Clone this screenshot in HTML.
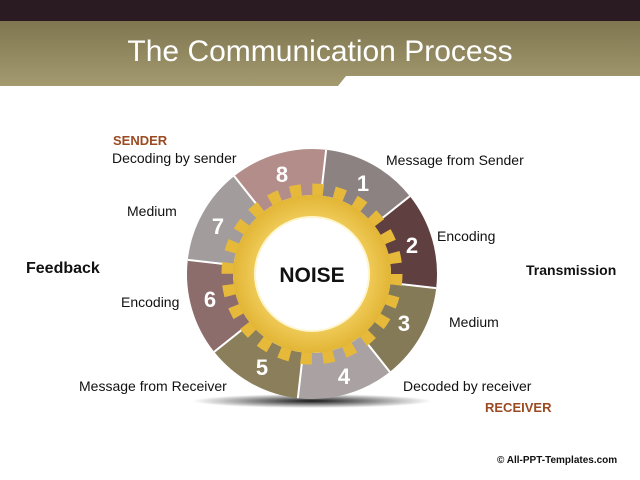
<!DOCTYPE html>
<html><head><style>
html,body{margin:0;padding:0;background:#fff;}
body{width:640px;height:480px;position:relative;overflow:hidden;font-family:"Liberation Sans",sans-serif;}
.t{position:absolute;white-space:nowrap;font-size:14px;color:#111;}
</style></head><body>
<svg width="640" height="480" style="position:absolute;left:0;top:0">
<defs>
<linearGradient id="hg" x1="0" y1="0" x2="0" y2="1"><stop offset="0" stop-color="#7f7650"/><stop offset="1" stop-color="#a39a70"/></linearGradient>
<radialGradient id="gg" cx="0.5" cy="0.5" r="0.5"><stop offset="0.7" stop-color="#f0cc5a"/><stop offset="1" stop-color="#e2b535"/></radialGradient>
<radialGradient id="sh" cx="0.5" cy="0.5" r="0.5"><stop offset="0" stop-color="#000" stop-opacity="0.9"/><stop offset="1" stop-color="#000" stop-opacity="0"/></radialGradient>
</defs>
<rect x="0" y="0" width="640" height="21" fill="#2a1b23"/>
<path d="M0 21H640V76H346L338 86H0Z" fill="url(#hg)"/>
<text x="320" y="61" text-anchor="middle" font-family="Liberation Sans" font-size="30" fill="#fff">The Communication Process</text>
<ellipse cx="312" cy="401" rx="120" ry="7" fill="url(#sh)"/>
<g transform="translate(312,274)">
<g fill="none" stroke-width="46">
<circle r="102" stroke="#8c8282" stroke-dasharray="80.1 600" transform="rotate(-83.5)"/>
<circle r="102" stroke="#5f3f40" stroke-dasharray="80.1 600" transform="rotate(-38.5)"/>
<circle r="102" stroke="#857a58" stroke-dasharray="80.1 600" transform="rotate(6.5)"/>
<circle r="102" stroke="#aaa2a2" stroke-dasharray="80.1 600" transform="rotate(51.5)"/>
<circle r="102" stroke="#8b7e5a" stroke-dasharray="80.1 600" transform="rotate(96.5)"/>
<circle r="102" stroke="#8d6c6c" stroke-dasharray="80.1 600" transform="rotate(141.5)"/>
<circle r="102" stroke="#a29c9c" stroke-dasharray="80.1 600" transform="rotate(186.5)"/>
<circle r="102" stroke="#b38d8a" stroke-dasharray="80.1 600" transform="rotate(231.5)"/>
</g>
<g stroke="#fff" stroke-width="2">
<line x1="0" y1="-82" x2="0" y2="-125" transform="rotate(6.5)"/>
<line x1="0" y1="-82" x2="0" y2="-125" transform="rotate(51.5)"/>
<line x1="0" y1="-82" x2="0" y2="-125" transform="rotate(96.5)"/>
<line x1="0" y1="-82" x2="0" y2="-125" transform="rotate(141.5)"/>
<line x1="0" y1="-82" x2="0" y2="-125" transform="rotate(186.5)"/>
<line x1="0" y1="-82" x2="0" y2="-125" transform="rotate(231.5)"/>
<line x1="0" y1="-82" x2="0" y2="-125" transform="rotate(276.5)"/>
<line x1="0" y1="-82" x2="0" y2="-125" transform="rotate(321.5)"/>
</g>
<circle r="84" fill="none" stroke="#e6b93a" stroke-width="13" stroke-dasharray="11 11"/>
<circle r="79" fill="url(#gg)"/>
<circle r="57" fill="#fff" stroke="#fff6d0" stroke-width="2"/>
<g font-family="Liberation Sans" font-weight="bold" font-size="22" fill="#fff" text-anchor="middle">
<text x="51" y="-83">1</text><text x="100" y="-21">2</text><text x="92" y="57">3</text><text x="32" y="110">4</text>
<text x="-50" y="101">5</text><text x="-102" y="33">6</text><text x="-94" y="-40">7</text><text x="-30" y="-92">8</text>
</g>
<text x="0" y="8" text-anchor="middle" font-family="Liberation Sans" font-weight="bold" font-size="21" fill="#111">NOISE</text>
</g>
</svg>
<div class="t" style="left:113px;top:133px;color:#9b4a22;font-weight:bold;font-size:13px">SENDER</div>
<div class="t" style="left:112px;top:150px">Decoding by sender</div>
<div class="t" style="left:127px;top:203px">Medium</div>
<div class="t" style="left:26px;top:260px;font-weight:bold;font-size:16px">Feedback</div>
<div class="t" style="left:121px;top:294px">Encoding</div>
<div class="t" style="left:79px;top:378px">Message from Receiver</div>
<div class="t" style="left:386px;top:152px">Message from Sender</div>
<div class="t" style="left:437px;top:228px">Encoding</div>
<div class="t" style="left:526px;top:262px;font-weight:bold">Transmission</div>
<div class="t" style="left:449px;top:314px">Medium</div>
<div class="t" style="left:403px;top:378px">Decoded by receiver</div>
<div class="t" style="left:485px;top:400px;color:#9b4a22;font-weight:bold;font-size:13px">RECEIVER</div>
<div class="t" style="left:497px;top:455px;font-weight:bold;font-size:10px">© All-PPT-Templates.com</div>
</body></html>
